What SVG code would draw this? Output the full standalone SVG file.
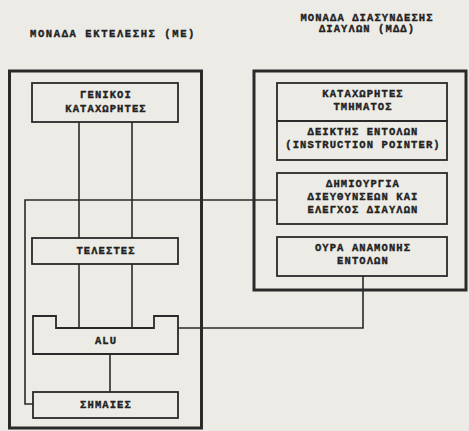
<svg xmlns="http://www.w3.org/2000/svg" width="469" height="431" viewBox="0 0 469 431">
<style>
.bg{fill:#ecebe6}
.outer{fill:none;stroke:#2a2a2a;stroke-width:3}
.box{fill:none;stroke:#2a2a2a;stroke-width:1.8}
.wire{fill:none;stroke:#2a2a2a;stroke-width:1.6}
text{font-family:"Liberation Mono","DejaVu Sans Mono",monospace;font-size:10.5px;font-weight:700;fill:#222;stroke:#222;stroke-width:0.35px;text-anchor:middle;letter-spacing:1.1px}
.title{letter-spacing:1.6px}
</style>
<rect class="bg" x="0" y="0" width="469" height="431"/>
<g id="connectors">
<polyline class="wire" points="79,122 79,238"/>
<polyline class="wire" points="132,122 132,238"/>
<polyline class="wire" points="79,264 79,328"/>
<polyline class="wire" points="132,264 132,328"/>
<polyline class="wire" points="277,200 25,200 25,404 33,404"/>
<polyline class="wire" points="110,354 110,392"/>
<polyline class="wire" points="178,328 363,328 363,276"/>
</g>
<g id="eu">
<text class="title" x="113" y="37">ΜΟΝΑΔΑ ΕΚΤΕΛΕΣΗΣ (ΜΕ)</text>
<rect class="outer" x="9.5" y="71" width="192" height="357"/>
</g>
<g id="biu">
<text x="367" y="21">ΜΟΝΑΔΑ ΔΙΑΣΥΝΔΕΣΗΣ</text>
<text x="367" y="32">ΔΙΑΥΛΩΝ (ΜΔΔ)</text>
<rect class="outer" x="254" y="71" width="212" height="219"/>
</g>
<g id="general-registers">
<rect class="box" x="32" y="83" width="146" height="39"/>
<text x="106" y="98">ΓΕΝΙΚΟΙ</text>
<text x="106" y="112">ΚΑΤΑΧΩΡΗΤΕΣ</text>
</g>
<g id="operands">
<rect class="box" x="32" y="238" width="146" height="26"/>
<text x="106" y="254">ΤΕΛΕΣΤΕΣ</text>
</g>
<g id="alu">
<path class="box" d="M33,316 H56 V328 H154 V316 H178 V354 H33 Z"/>
<text x="106" y="344">ALU</text>
</g>
<g id="flags">
<rect class="box" x="33" y="392" width="145" height="26"/>
<text x="106" y="408">ΣΗΜΑΙΕΣ</text>
</g>
<g id="segment-registers">
<rect class="box" x="277" y="83" width="170" height="38"/>
<text x="363" y="97">ΚΑΤΑΧΩΡΗΤΕΣ</text>
<text x="363" y="110">ΤΜΗΜΑΤΟΣ</text>
</g>
<g id="instruction-pointer">
<rect class="box" x="277" y="121" width="170" height="39"/>
<text x="363" y="135">ΔΕΙΚΤΗΣ ΕΝΤΟΛΩΝ</text>
<text x="363" y="148">(INSTRUCTION POINTER)</text>
</g>
<g id="address-bus-control">
<rect class="box" x="277" y="173" width="170" height="51"/>
<text x="363" y="187">ΔΗΜΙΟΥΡΓΙΑ</text>
<text x="363" y="200">ΔΙΕΥΘΥΝΣΕΩΝ ΚΑΙ</text>
<text x="363" y="213">ΕΛΕΓΧΟΣ ΔΙΑΥΛΩΝ</text>
</g>
<g id="instruction-queue">
<rect class="box" x="277" y="237" width="170" height="39"/>
<text x="363" y="251">ΟΥΡΑ ΑΝΑΜΟΝΗΣ</text>
<text x="363" y="264">ΕΝΤΟΛΩΝ</text>
</g>
</svg>
